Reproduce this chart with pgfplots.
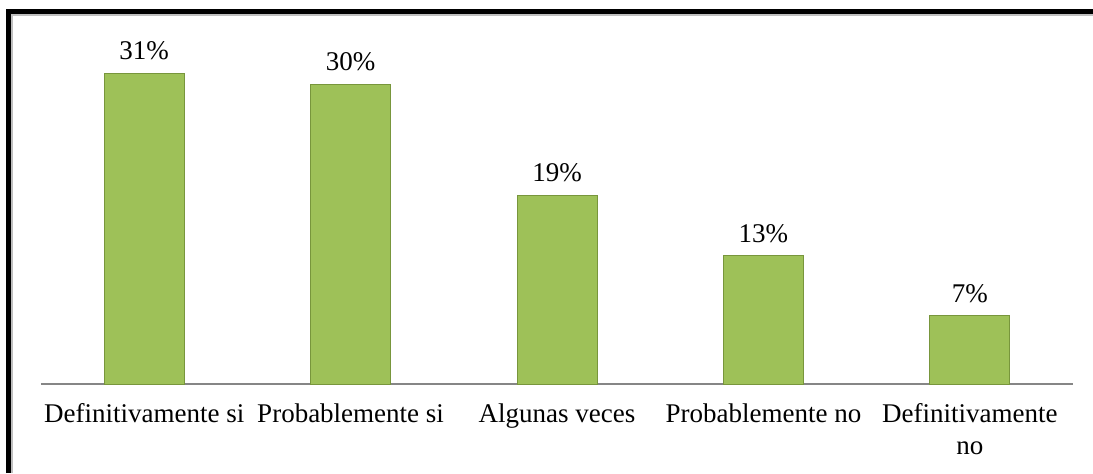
\documentclass[border=0pt]{standalone}
\usepackage{pgfplots}
\pgfplotsset{compat=1.18}
\usepackage{fontspec}
\setmainfont{Liberation Serif}
\definecolor{barg}{RGB}{158,193,88}
\definecolor{bard}{RGB}{120,150,60}
\definecolor{axgray}{RGB}{134,134,134}
\begin{document}
\begin{tikzpicture}[x=1pt,y=1pt]
\path[use as bounding box] (-20.5,-44.5) rectangle (526,192);
\begin{axis}[
  at={(0,0)}, anchor=south west,
  scale only axis, width=516pt, height=177pt,
  xmin=-0.5, xmax=4.5, ymin=0, ymax=35.3,
  axis x line=bottom, axis y line=none,
  x axis line style={-, draw=axgray, line width=1pt},
  xtick={0,1,2,3,4},
  xticklabels={Definitivamente si, Probablemente si, Algunas veces, Probablemente no, {Definitivamente\\no}},
  xticklabel style={align=center, font=\fontsize{13.5}{16}\selectfont, yshift=-2pt},
  xtick style={draw=none},
  ytick=\empty,
  ybar, bar width=40pt,
  point meta=explicit symbolic,
  nodes near coords,
  every node near coord/.append style={font=\fontsize{13.5}{15}\selectfont, yshift=3pt},
]
\addplot[fill=barg, draw=bard, line width=0.5pt] coordinates {
  (0,31.0) [31\%]
  (1,29.9) [30\%]
  (2,18.8) [19\%]
  (3,12.8) [13\%]
  (4,6.8) [7\%]
};
\end{axis}
\draw[gray!50, line width=1pt] (-14.5,-44.5) -- (-14.5,184.5) -- (526,184.5);
\draw[black, line width=2.2pt, line join=miter] (-16.25,-44.5) -- (-16.25,186.25) -- (526,186.25);
\end{tikzpicture}
\end{document}
